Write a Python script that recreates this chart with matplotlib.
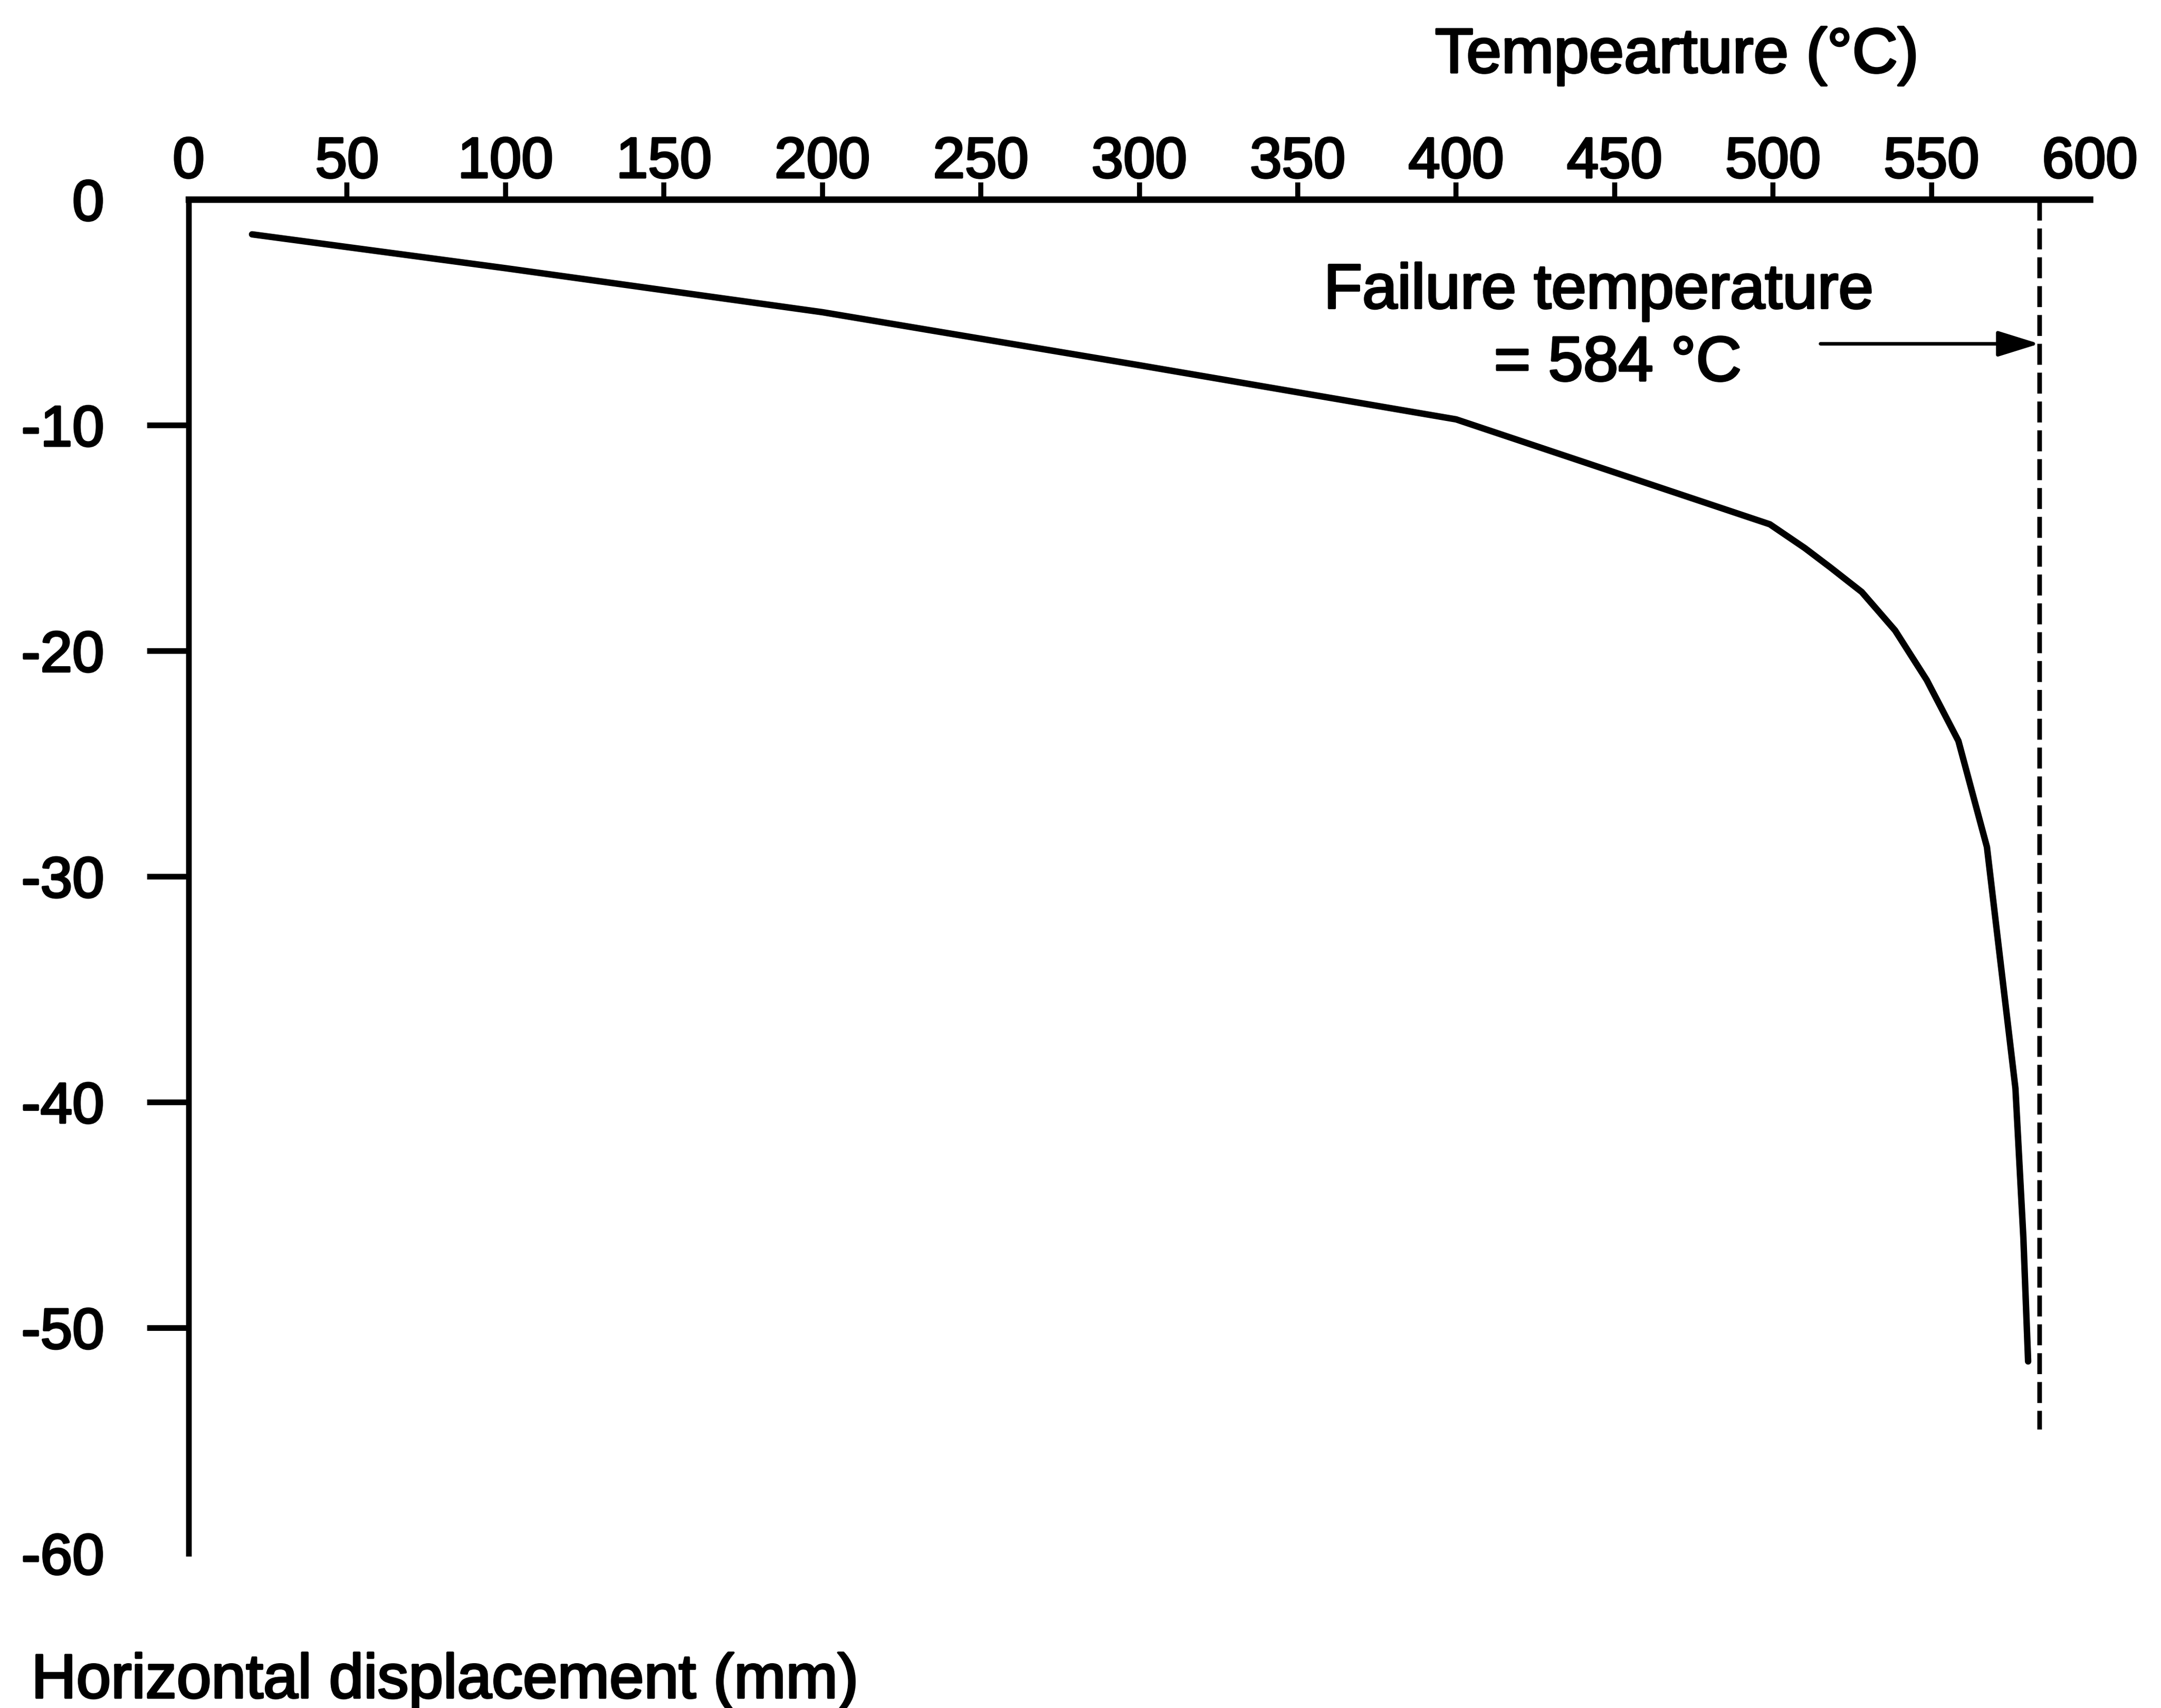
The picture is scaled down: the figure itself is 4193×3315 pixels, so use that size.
import matplotlib
matplotlib.use("Agg")
import matplotlib.pyplot as plt
import matplotlib.patheffects as pe

plt.rcParams['font.family'] = ['Liberation Sans', 'DejaVu Sans']
plt.rcParams['axes.unicode_minus'] = False

# temperature (deg C) vs horizontal displacement (mm)
temp = [20, 100, 200, 300, 400, 499, 510, 518, 528, 538.5, 548.5, 558.5,
        567.5, 576.5, 579, 580.5]
disp = [-1.55, -3.05, -5.0, -7.35, -9.75, -14.4, -15.45, -16.3, -17.4, -19.1,
        -21.3, -24.0, -28.7, -39.4, -46.0, -51.5]

fail_temp = 584
fail_line_bottom = -54.5
arrow_tail = 515
arrow_y = -6.4

xticks = list(range(0, 601, 50))
yticks = list(range(0, -61, -10))

thick = [pe.withStroke(linewidth=3, foreground='black')]

fig = plt.figure(figsize=(41.93, 33.16), dpi=100)
ax = fig.add_axes([0.0873, 0.0906, 0.8798, 0.7924])

ax.plot(temp, disp, color='black', lw=9, solid_joinstyle='round',
        solid_capstyle='round', clip_on=False)
ax.plot([fail_temp, fail_temp], [0, fail_line_bottom], color='black', lw=6.5,
        linestyle=(0, (4.5, 1.7)), clip_on=False)

ax.annotate('', xy=(fail_temp, arrow_y), xytext=(arrow_tail, arrow_y),
            arrowprops=dict(arrowstyle='-|>,head_length=0.45,head_width=0.14',
                            color='black', lw=5, mutation_scale=110,
                            shrinkA=0, shrinkB=0))

ax.text(445, -4.82, 'Failure temperature', fontsize=88, ha='center',
        va='baseline', path_effects=thick)
ax.text(451, -8.03, '= 584 °C', fontsize=88, ha='center', va='baseline',
        path_effects=thick)

ax.set_xlim(0, 600)
ax.set_ylim(-60, 0)
ax.xaxis.tick_top()
ax.set_xticks(xticks)
ax.set_yticks(yticks)
ax.tick_params(axis='x', direction='out', length=24, width=7, pad=-10,
               labelsize=80)
ax.tick_params(axis='y', direction='out', length=58, width=8, pad=60,
               labelsize=80)
for lab in ax.get_xticklabels() + ax.get_yticklabels():
    lab.set_path_effects(thick)

xt = ax.xaxis.get_major_ticks()
xt[0].tick2line.set_visible(False)
xt[-1].tick2line.set_visible(False)
yt = ax.yaxis.get_major_ticks()
yt[0].tick1line.set_visible(False)
yt[-1].tick1line.set_visible(False)

ax.spines['right'].set_visible(False)
ax.spines['bottom'].set_visible(False)
ax.spines['top'].set_linewidth(9)
ax.spines['left'].set_linewidth(8)

fig.text(0.776, 0.9573, 'Tempearture (°C)', fontsize=88, ha='center',
         va='baseline', path_effects=thick)
fig.text(0.0145, 0.006, 'Horizontal displacement (mm)', fontsize=87,
         ha='left', va='baseline', path_effects=thick)

fig.savefig('out.png', dpi=100, facecolor='white')
